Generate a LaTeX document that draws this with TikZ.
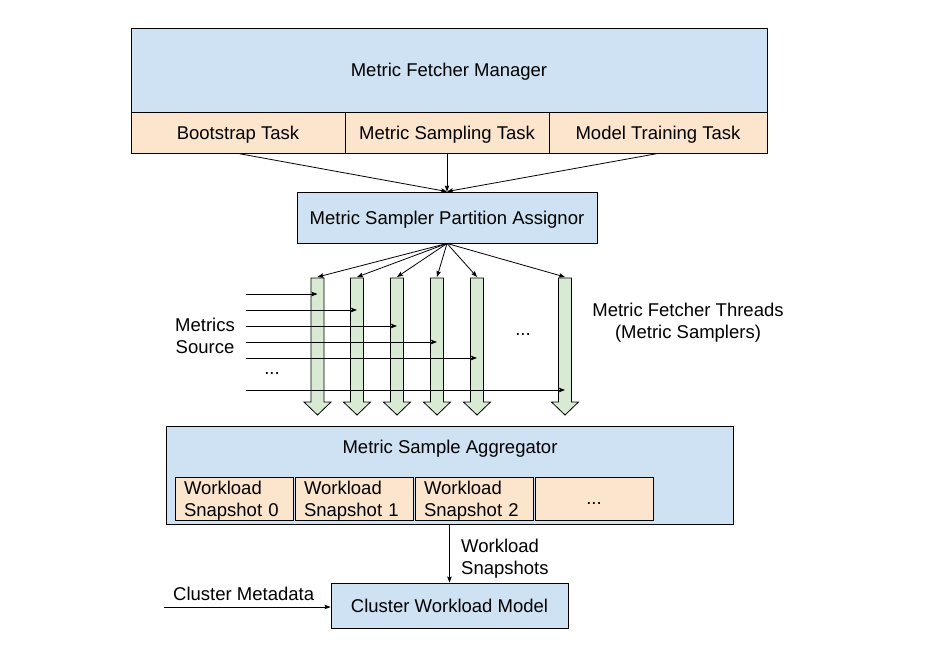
\documentclass[tikz,border=0pt]{standalone}
\usepackage{fontspec}
\setmainfont{Liberation Sans}
\usetikzlibrary{arrows.meta}
\definecolor{bluefill}{HTML}{CFE2F3}
\definecolor{orangefill}{HTML}{FCE5CD}
\definecolor{greenfill}{HTML}{D9EAD3}
\begin{document}
\begin{tikzpicture}[x=1pt,y=-1pt,
  txt/.style={font=\fontsize{18.5}{22}\selectfont, inner sep=0pt},
  boxbase/.style={txt, draw=black, line width=0.9pt, rectangle},
  bluebox/.style={boxbase, fill=bluefill, text depth=0pt},
  taskbox/.style={boxbase, fill=orangefill, text depth=0pt},
  snapbox/.style={boxbase, fill=orangefill, minimum width=118pt, minimum height=43pt,
     text width=100pt, align=left, inner xsep=9pt, text depth=22pt},
  thread/.style={draw=black, line width=0.8pt, fill=greenfill, line join=miter},
  conn/.style={line width=0.8pt, -{Stealth[length=6pt,width=4.5pt,inset=1pt]}}
]
\useasboundingbox (0,0) rectangle (945,649);
\fill[white] (0,0) rectangle (945,649);

% Metric Fetcher Manager
\node[bluebox, minimum width=636pt, minimum height=84pt] (mgr) at (449,70) {Metric Fetcher Manager};
\node[taskbox, minimum width=214pt, minimum height=41pt] (boot) at (238,132.5) {Bootstrap Task};
\node[taskbox, minimum width=204pt, minimum height=41pt] (samp) at (447,132.5) {Metric Sampling Task};
\node[taskbox, minimum width=218pt, minimum height=41pt] (train) at (658,132.5) {Model Training Task};

% Assignor
\node[bluebox, minimum width=300pt, minimum height=51pt] (asg) at (447,217.5) {Metric Sampler Partition Assignor};

\draw[conn] (boot.south) -- (asg.north);
\draw[conn] (samp.south) -- (asg.north);
\draw[conn] (train.south) -- (asg.north);

% Threads
\foreach \c/\y [count=\i] in {317.5/294, 357/310, 397/326, 437/342, 477/358, 565/390} {
  \draw[thread] (\c-6.5,278) -- (\c+6.5,278) -- (\c+6.5,402) -- (\c+13.5,402)
     -- (\c,415) -- (\c-13.5,402) -- (\c-6.5,402) -- cycle;
  \coordinate (top\i) at (\c,277);
  \coordinate (hit\i) at (\c,\y);
  \coordinate (src\i) at (246,\y);
}
\foreach \i in {1,...,6} {
  \draw[conn] (asg.south) -- (top\i);
  \draw[conn] (src\i) -- (hit\i);
}

\node[txt, align=center] (msrc) at (205,336) {Metrics\\Source};
\node[txt] (dots1) at (272,374) {...};
\node[txt] (dots2) at (523,335) {...};
\node[txt, align=center] (thr) at (688,323) {Metric Fetcher Threads\\(Metric Samplers)};

% Aggregator
\node[bluebox, minimum width=567pt, minimum height=98pt] (agg) at (449.5,475) {};
\node[txt] (aggt) at (450,448.5) {Metric Sample Aggregator};
\node[snapbox] (s0) at (234,498.5) {Workload\\Snapshot 0};
\node[snapbox] (s1) at (354,498.5) {Workload\\Snapshot 1};
\node[snapbox] (s2) at (474,498.5) {Workload\\Snapshot 2};
\node[boxbase, fill=orangefill, minimum width=118pt, minimum height=43pt, text height=11pt, text depth=0pt] (s3) at (594,498.5) {...};

% Cluster Workload Model
\node[bluebox, minimum width=237pt, minimum height=45pt] (cwm) at (449.5,605.5) {Cluster Workload Model};
\draw[conn] (agg.south -| cwm.north) -- (cwm.north);
\node[txt, anchor=west, align=left] (wsl) at (461,558.5) {Workload\\Snapshots};

\coordinate (cmsrc) at (164,607);
\draw[conn] (cmsrc) -- (cwm.west |- cmsrc);
\node[txt, anchor=west] (cml) at (173,594) {Cluster Metadata};
\end{tikzpicture}
\end{document}
